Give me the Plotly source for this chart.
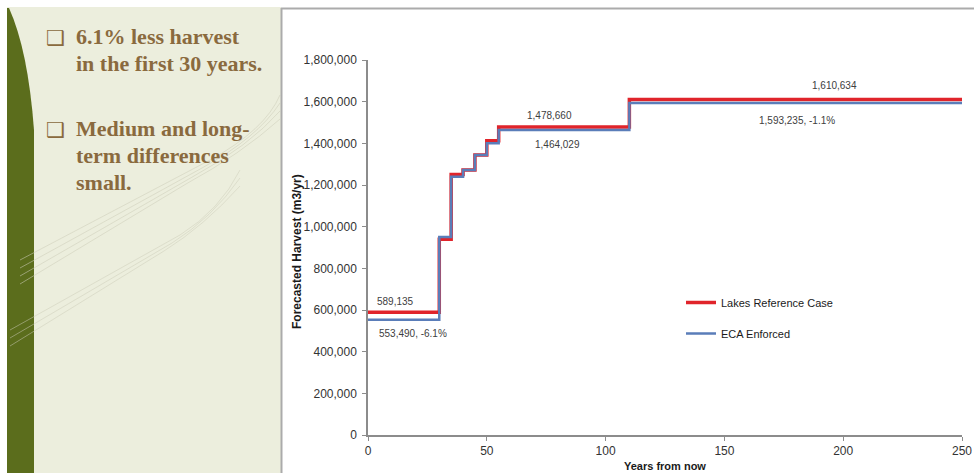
import plotly.graph_objects as go

# ---- data ----
years = [0, 30, 35, 40, 45, 50, 55, 110, 250]
lakes_reference = [589135, 940000, 1251000, 1272000, 1344000, 1413000, 1478660, 1610634, 1610634]
eca_enforced = [553490, 951000, 1240000, 1272000, 1344000, 1400000, 1464029, 1593235, 1593235]
series_names = ["Lakes Reference Case", "ECA Enforced"]
y_ticks = [0, 200000, 400000, 600000, 800000, 1000000, 1200000, 1400000, 1600000, 1800000]
x_ticks = [0, 50, 100, 150, 200, 250]
pct_start = "-6.1%"
pct_end = "-1.1%"
bullet_lines = [
    ["6.1% less harvest", "in the first 30 years."],
    ["Medium and long-", "term differences", "small."],
]

W, H = 974, 473
L, R, T, B = 368, 962, 60, 435


def px(x):
    return (x - L) / (R - L)


def py(y):
    return (B - y) / (B - T)


fig = go.Figure()
fig.add_trace(go.Scatter(x=years, y=lakes_reference, mode="lines", line_shape="hv",
                         name=series_names[0], legendgroup="a",
                         line=dict(color="#E0242B", width=3.5)))
fig.add_trace(go.Scatter(x=years, y=eca_enforced, mode="lines", line_shape="hv",
                         name=series_names[1], legendgroup="b",
                         line=dict(color="#5A7DB9", width=2.5)))

shapes = []
# beige side panel
shapes.append(dict(type="rect", xref="paper", yref="paper", layer="below",
                   x0=px(7), x1=px(281), y0=py(473), y1=py(7),
                   fillcolor="#ECEEDD", line=dict(width=0)))
# green band
path = (f"M {px(7)},{py(8)} L {px(9)},{py(8)} "
        f"Q {px(28)},{py(50)} {px(34)},{py(130)} "
        f"L {px(34)},{py(473)} L {px(7)},{py(473)} Z")
shapes.append(dict(type="path", xref="paper", yref="paper", layer="below", path=path,
                   fillcolor="#5B6D1C", line=dict(width=0)))
# faint decorative arcs
for off in [0, 8, 16, 24]:
    p = (f"M {px(20)},{py(260 + off)} L {px(210 - off)},{py(160 + off)} "
         f"Q {px(265 - off)},{py(130 + off)} {px(280)},{py(95 + off)}")
    shapes.append(dict(type="path", xref="paper", yref="paper", layer="below", path=p,
                       line=dict(color="rgba(205,205,185,0.55)", width=1)))
for off in [0, 8, 16]:
    p = (f"M {px(10)},{py(330 + off)} L {px(180 - off)},{py(235 + off)} "
         f"Q {px(220 - off)},{py(210 + off)} {px(240)},{py(170 + off)}")
    shapes.append(dict(type="path", xref="paper", yref="paper", layer="below", path=p,
                       line=dict(color="rgba(205,205,185,0.5)", width=1)))
# chart frame
shapes.append(dict(type="line", xref="paper", yref="paper", x0=px(281), x1=px(974),
                   y0=py(8.5), y1=py(8.5), line=dict(color="#ABABAB", width=2)))
shapes.append(dict(type="line", xref="paper", yref="paper", x0=px(281.5), x1=px(281.5),
                   y0=py(8), y1=py(473), line=dict(color="#ABABAB", width=2)))

brown = "#8A6A3E"
serif = "Liberation Serif"
annotations = []
for top, lines in zip([22, 114], bullet_lines):
    annotations.append(dict(xref="paper", yref="paper", x=px(44), y=py(top + 2),
                            xanchor="left", yanchor="top", showarrow=False, text="❑",
                            font=dict(family="DejaVu Sans", size=21, color=brown)))
    for i, line in enumerate(lines):
        annotations.append(dict(xref="paper", yref="paper", x=px(74), y=py(top + 27 * i),
                                xanchor="left", yanchor="top", showarrow=False,
                                text=f"<b>{line}</b>", align="left",
                                font=dict(family=serif, size=22, color=brown)))

lab_font = dict(family="Liberation Sans", size=10, color="#404040")


def yr(x):
    return (x - L) / (R - L) * 250


def val(y):
    return (B - y) / (B - T) * 1800000


labels = [
    (375, 301, f"{lakes_reference[0]:,}"),
    (377, 333, f"{eca_enforced[0]:,}, {pct_start}"),
    (525, 115, f"{lakes_reference[6]:,}"),
    (533, 144, f"{eca_enforced[6]:,}"),
    (810, 85, f"{lakes_reference[7]:,}"),
    (757, 120, f"{eca_enforced[7]:,}, {pct_end}"),
]
for x, y, t in labels:
    annotations.append(dict(x=yr(x), y=val(y), xref="x", yref="y", xanchor="left",
                            yanchor="middle", showarrow=False, text=t, font=lab_font))

annotations.append(dict(xref="paper", yref="paper", x=px(297), y=py(252), textangle=-90,
                        xanchor="center", yanchor="middle", showarrow=False,
                        text="<b>Forecasted Harvest (m3/yr)</b>",
                        font=dict(family="Liberation Sans", size=12, color="#1a1a1a")))
annotations.append(dict(xref="paper", yref="paper", x=0.5, y=py(466),
                        xanchor="center", yanchor="middle", showarrow=False,
                        text="<b>Years from now</b>",
                        font=dict(family="Liberation Sans", size=11, color="#1a1a1a")))

tick_font = dict(family="Liberation Sans", size=12, color="#333333")
fig.update_layout(
    width=W, height=H,
    margin=dict(l=L, r=W - R, t=T, b=H - B, pad=0, autoexpand=False),
    paper_bgcolor="white", plot_bgcolor="white",
    shapes=shapes, annotations=annotations,
    showlegend=True,
    legend=dict(x=px(681), y=py(288), xanchor="left", yanchor="top",
                bgcolor="rgba(0,0,0,0)", tracegroupgap=12,
                font=dict(family="Liberation Sans", size=11, color="#1a1a1a")),
    xaxis=dict(range=[0, 250], tickvals=x_ticks, showgrid=False, zeroline=False,
               showline=True, linecolor="#8C8C8C", linewidth=1.5, automargin=False,
               ticks="outside", ticklen=4, tickcolor="#8C8C8C", tickfont=tick_font),
    yaxis=dict(range=[0, 1800000], tickvals=y_ticks, tickformat=",", showgrid=False,
               zeroline=False, showline=True, linecolor="#8C8C8C", linewidth=1.5,
               ticks="outside", ticklen=4, tickcolor="#8C8C8C", tickfont=tick_font,
               ticklabelstandoff=3, automargin=False),
)

fig.write_html("out.html", config={"displayModeBar": False},
               post_script="document.body.style.margin='0';document.body.style.overflow='hidden';")
